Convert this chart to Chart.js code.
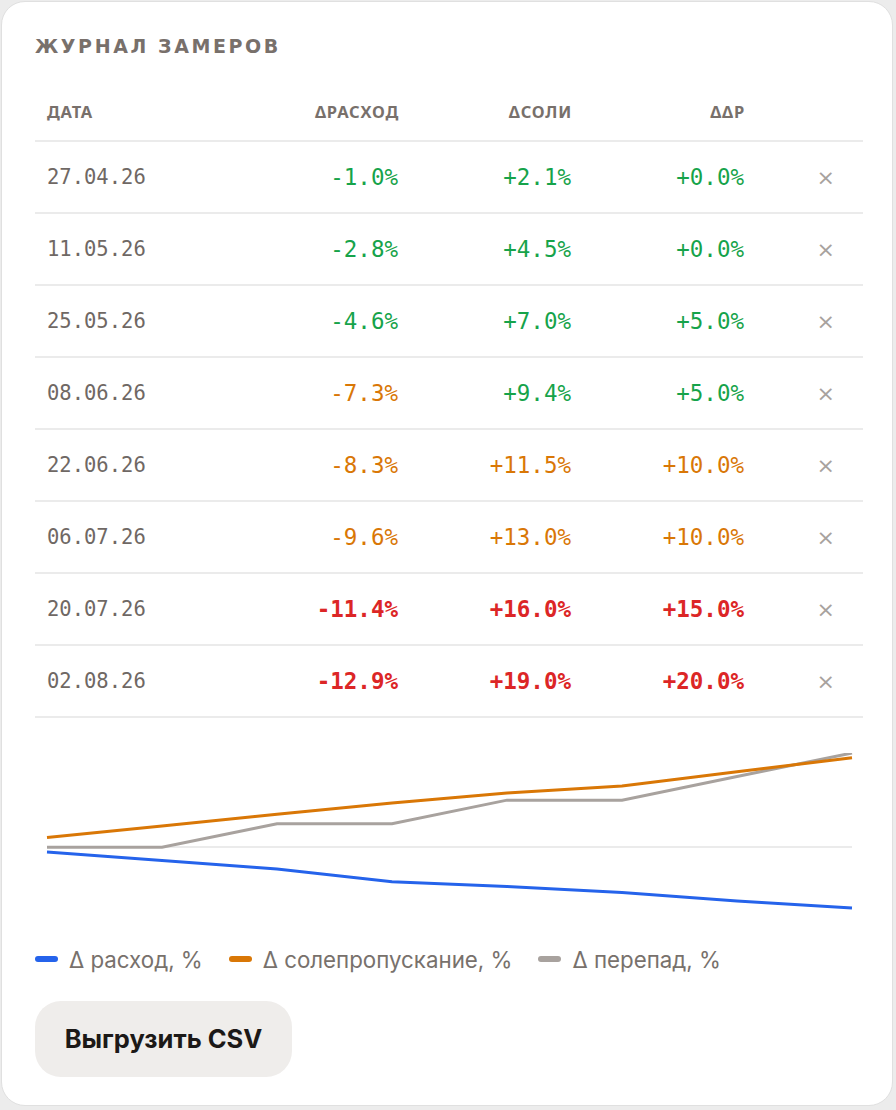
<!DOCTYPE html>
<html lang="ru">
<head>
<meta charset="UTF-8">
<title>Журнал замеров</title>
<script src="https://cdn.jsdelivr.net/npm/chart.js@4.4.1/dist/chart.umd.min.js"></script>
<style>
    html, body { margin: 0; padding: 0; background: #ececec; }
    .card {
        position: absolute; left: 1px; top: 1px;
        width: 892px; height: 1105px;
        background: #fff; border: 1px solid #e0e0e0; border-radius: 24px;
        box-sizing: border-box;
    }
    .title {
        position: absolute; left: 33px; top: 32px; height: 24px; line-height: 24px;
        font-family: "DejaVu Sans", sans-serif; font-weight: bold; font-size: 19px;
        letter-spacing: 2.6px; color: #78706b;
    }
    table {
        position: absolute; left: 33px; top: 80px; width: 828px;
        border-collapse: collapse; table-layout: fixed;
        font-family: "DejaVu Sans Mono", monospace;
    }
    th {
        height: 58px; border-bottom: 2px solid #ebebeb;
        font-family: "Noto Sans", sans-serif;
        font-size: 16.5px; font-weight: bold; letter-spacing: 0.8px; color: #78706b;
        padding: 0; vertical-align: middle;
    }
    td {
        height: 70px; border-bottom: 2px solid #ebebeb;
        font-size: 22.5px; padding: 0; vertical-align: middle; color: #6f6864;
    }
    td.l { font-size: 20.5px; }
    .l { text-align: left; padding-left: 12px; }
    .r { text-align: right; padding-right: 1px; }
    th.r { padding-right: 0; }
    .x { text-align: right; padding-right: 28px; color: #a8a29e; font-family: "DejaVu Sans", sans-serif; font-size: 22px; }
    .chartbox { position: absolute; left: 33px; top: 718px; width: 828px; height: 220px; }
    .legend {
        position: absolute; left: 33px; top: 942px; height: 30px; display: flex; align-items: center;
        font-family: Inter, sans-serif; font-size: 22.3px; color: #78716c;
    }
    .legend span.sw { display: inline-block; width: 23px; height: 6px; border-radius: 3px; margin-right: 11px; }
    .legend .it { display: flex; align-items: center; margin-right: 26px; }
    .btn {
        position: absolute; left: 33px; top: 999px; width: 257px; height: 76px;
        background: #efedeb; border-radius: 26px;
        font-family: Inter, sans-serif; font-weight: bold; font-size: 25.5px; color: #1c1917;
        line-height: 76px; text-align: center;
    }
</style>
</head>
<body>
<div class="card">
    <div class="title">ЖУРНАЛ ЗАМЕРОВ</div>
    <table id="log">
        <colgroup>
            <col style="width:190px"><col style="width:174px"><col style="width:173px"><col style="width:173px"><col style="width:118px">
        </colgroup>
        <thead>
            <tr><th class="l">ДАТА</th><th class="r">ΔРАСХОД</th><th class="r">ΔСОЛИ</th><th class="r">ΔΔР</th><th></th></tr>
        </thead>
        <tbody id="rows"></tbody>
    </table>
    <div class="chartbox"><canvas id="myChart"></canvas></div>
    <div class="legend" id="legend"></div>
    <div class="btn">Выгрузить CSV</div>
</div>

<script>
    // замеры
    var dates = ["27.04.26", "11.05.26", "25.05.26", "08.06.26", "22.06.26", "06.07.26", "20.07.26", "02.08.26"];
    var dFlow = [-1.0, -2.8, -4.6, -7.3, -8.3, -9.6, -11.4, -12.9];
    var dSalt = [2.1, 4.5, 7.0, 9.4, 11.5, 13.0, 16.0, 19.0];
    var dDp = [0.0, 0.0, 5.0, 5.0, 10.0, 10.0, 15.0, 20.0];

    var seriesNames = ["Δ расход, %", "Δ солепропускание, %", "Δ перепад, %"];
    var seriesColors = ["#2563eb", "#d97706", "#a8a29e"];

    // пороги: жёлтый / красный
    var warn = [5, 10, 10];
    var alarm = [10, 15, 15];

    function fmt(v) {
        return (v < 0 ? "-" : "+") + Math.abs(v).toFixed(1) + "%";
    }

    function cell(v, k) {
        var a = Math.abs(v);
        if (a >= alarm[k]) return '<td class="r" style="color:#dc2626;font-weight:bold">' + fmt(v) + '</td>';
        if (a >= warn[k]) return '<td class="r" style="color:#d97706">' + fmt(v) + '</td>';
        return '<td class="r" style="color:#16a34a">' + fmt(v) + '</td>';
    }

    var html = "";
    for (let i = 0; i < dates.length; i++) {
        html += "<tr><td class='l'>" + dates[i] + "</td>" + cell(dFlow[i], 0) + cell(dSalt[i], 1) + cell(dDp[i], 2) + "<td class='x'>×</td></tr>";
    }
    document.getElementById("rows").innerHTML = html;

    var lg = "";
    for (let i = 0; i < seriesNames.length; i++) {
        lg += '<div class="it"><span class="sw" style="background:' + seriesColors[i] + '"></span>' + seriesNames[i] + '</div>';
    }
    document.getElementById("legend").innerHTML = lg;

    var allSeries = [dFlow, dSalt, dDp];
    var datasets = allSeries.map(function (d, i) {
        return {
            label: seriesNames[i], data: d, borderColor: seriesColors[i], backgroundColor: seriesColors[i],
            borderWidth: 3, pointRadius: 0, tension: 0, fill: false
        };
    });

    new Chart(document.getElementById("myChart"), {
        type: "line",
        data: { labels: dates, datasets: datasets },
        options: {
            responsive: true, maintainAspectRatio: false, animation: false,
            layout: { padding: { top: 33, bottom: 22, left: 12, right: 11 } },
            plugins: { legend: { display: false }, tooltip: { enabled: false } },
            scales: {
                x: { display: false },
                y: {
                    min: -15, max: 20,
                    ticks: { display: false, stepSize: 5 },
                    border: { display: false },
                    grid: {
                        drawTicks: false, lineWidth: 2,
                        color: function (c) { return c.tick && c.tick.value === 0 ? "#ebebeb" : "rgba(0,0,0,0)"; }
                    }
                }
            }
        }
    });
</script>
</body>
</html>
